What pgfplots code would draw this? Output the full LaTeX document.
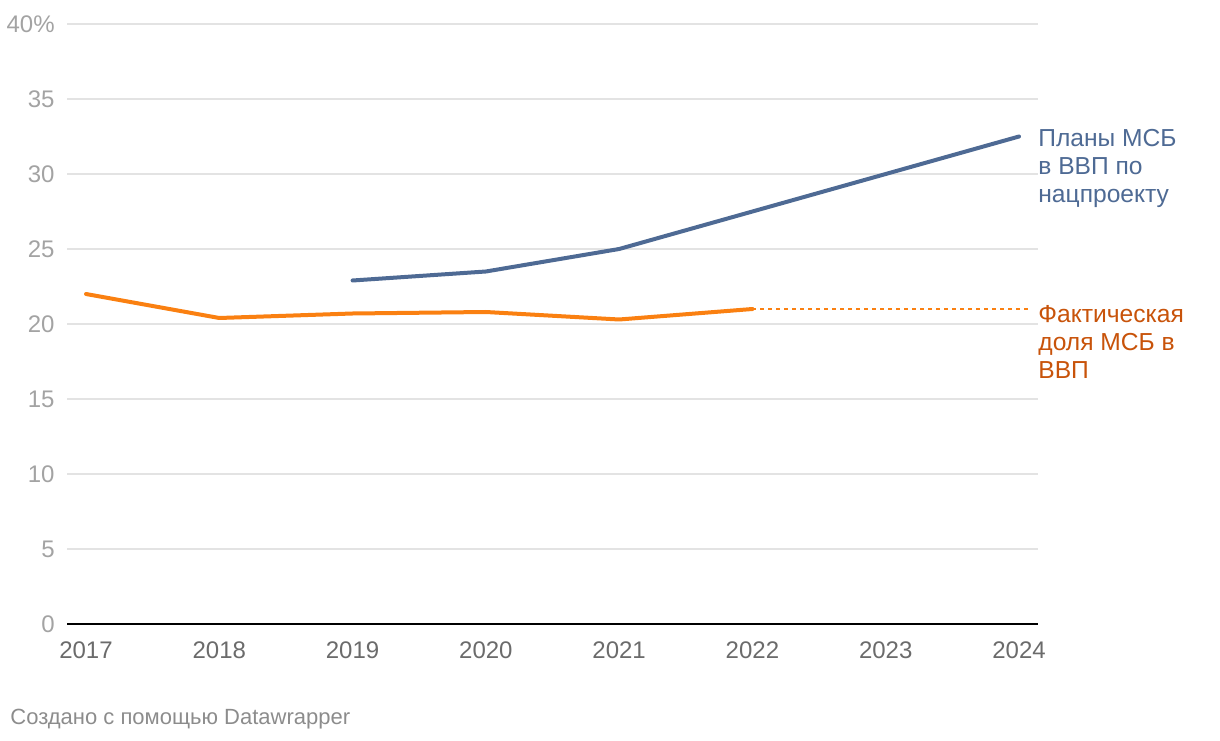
\documentclass[border=0pt]{standalone}
\usepackage{pgfplots}
\pgfplotsset{compat=1.18}
\usepackage{fontspec}
\setmainfont{Liberation Sans}
\definecolor{orangeline}{HTML}{FA8011}
\definecolor{orangelab}{HTML}{C8530A}
\definecolor{blueline}{HTML}{4E6A94}
\definecolor{gridgray}{HTML}{E3E3E3}
\definecolor{ytickgray}{HTML}{A3A3A3}
\definecolor{xtickgray}{HTML}{6B6B6B}
\definecolor{footgray}{HTML}{8C8C8C}
\begin{document}
\begin{tikzpicture}[x=1pt,y=1pt]
\useasboundingbox (0,0) rectangle (610,370);
\begin{axis}[
  at={(33.5pt,58pt)}, anchor=south west,
  scale only axis, width=485.5pt, height=300pt,
  xmin=2016.8575, xmax=2024.1425, ymin=0, ymax=40,
  axis line style={draw=none}, tick style={draw=none},
  major tick length=0pt,
  xtick={2017,2018,2019,2020,2021,2022,2023,2024},
  xticklabels={2017,2018,2019,2020,2021,2022,2023,2024},
  ytick={0,5,10,15,20,25,30,35,40},
  yticklabels={0,5,10,15,20,25,30,35,40\%},
  ymajorgrids, grid style={color=gridgray, line width=0.6pt},
  /pgf/number format/assume math mode=true,
  tick label style={font=\fontsize{12}{14}\selectfont},
  yticklabel style={anchor=east, inner sep=0pt, xshift=-6pt, text=ytickgray},
  xticklabel style={anchor=north, inner sep=0pt, yshift=-8.5pt, text=xtickgray},
  clip=false,
]
\draw[black, line width=1pt] (rel axis cs:0,0) -- (rel axis cs:1,0);
\addplot[orangeline, line width=0.8pt, dash pattern=on 2pt off 2pt] coordinates {(2022,21.0) (2024.07,21.0)};
\addplot[orangeline, line width=2pt, line join=round, line cap=round] coordinates {
(2017,22.0) (2018,20.4) (2019,20.7) (2020,20.8) (2021,20.3) (2022,21.0)};
\addplot[blueline, line width=2pt, line join=round, line cap=round] coordinates {
(2019,22.9) (2020,23.5) (2021,25.0) (2022,27.5) (2023,30.0) (2024,32.5)};
\end{axis}
\begin{scope}[every node/.style={anchor=base west, inner sep=0pt, font=\fontsize{12.3}{14}\selectfont}]
\node[text=blueline] at (519,296.5) {Планы МСБ};
\node[text=blueline] at (519,282.5) {в ВВП по};
\node[text=blueline] at (519,268.5) {нацпроекту};
\node[text=orangelab] at (519,208.5) {Фактическая};
\node[text=orangelab] at (519,194.5) {доля МСБ в};
\node[text=orangelab] at (519,181) {ВВП};
\node[text=footgray, font=\fontsize{11}{13}\selectfont] at (5,8) {Создано с помощью Datawrapper};
\end{scope}
\end{tikzpicture}
\end{document}
